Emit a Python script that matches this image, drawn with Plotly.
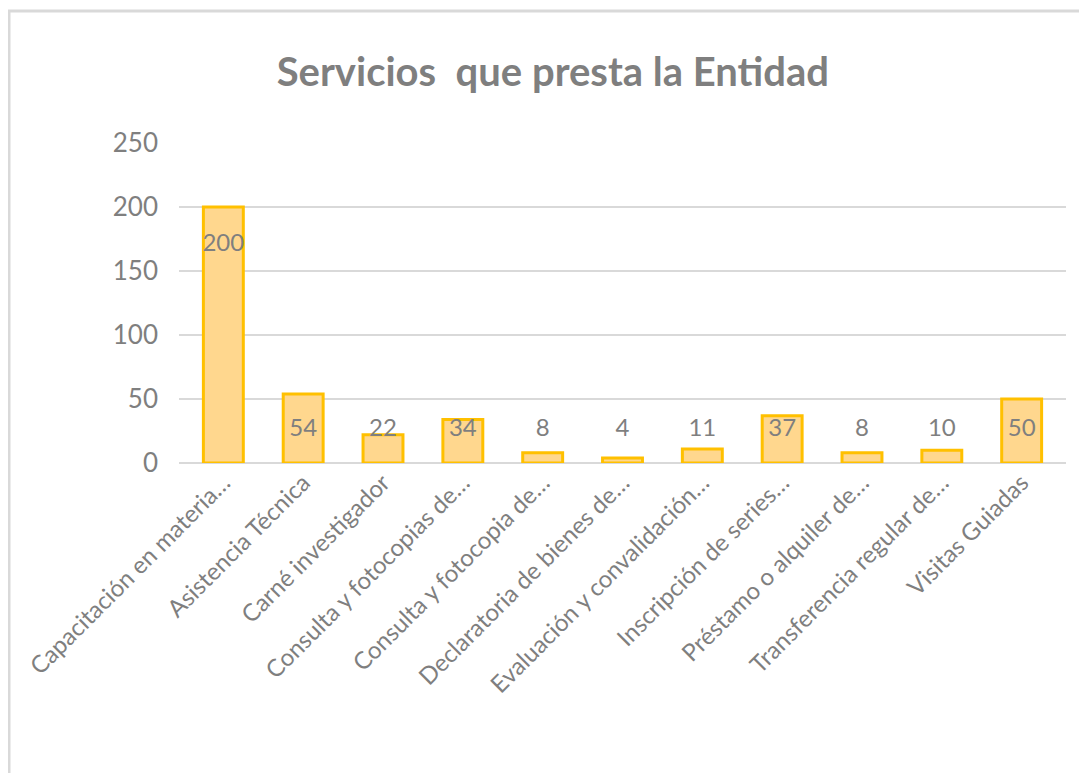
import plotly.graph_objects as go

categories = [
    "Capacitación en materia…",
    "Asistencia Técnica",
    "Carné investigador",
    "Consulta y fotocopias de…",
    "Consulta y fotocopia de…",
    "Declaratoria de bienes de…",
    "Evaluación y convalidación…",
    "Inscripción de series…",
    "Préstamo o alquiler de…",
    "Transferencia regular de…",
    "Visitas Guiadas",
]
values = [200, 54, 22, 34, 8, 4, 11, 37, 8, 10, 50]
y_ticks = [0, 50, 100, 150, 200, 250]

# page body has an 8px default margin, so the figure is offset by 8px
OFF = 8
W, H = 1087 - OFF, 773 - OFF
ML, MR, MT, MB = 183 - OFF - 4, 21, 143 - OFF, 310
GRAY = "#7f7f7f"
FONT = "Lato"

# data label heights: labels sit low in the bars, except the tallest one near its top
label_y = [v - 30 if v > 100 else 26 for v in values]

fig = go.Figure()
fig.add_trace(go.Bar(
    x=categories, y=values, width=0.5,
    marker=dict(color="#FFD78E", line=dict(color="#FFC000", width=3)),
    hoverinfo="x+y",
))
fig.add_trace(go.Scatter(
    x=categories, y=label_y, mode="text", text=[str(v) for v in values],
    textfont=dict(family=FONT, size=24, color=GRAY), hoverinfo="skip",
))

# chart frame (top and left edges visible in the reference), in figure pixels
pw, ph = W - ML - MR, H - MT - MB
def px_x(p): return (p - ML) / pw
def px_y(p): return (H - MB - p) / ph
fig.add_shape(type="line", xref="paper", yref="paper",
              x0=px_x(0), x1=px_x(W + 5), y0=px_y(3), y1=px_y(3),
              line=dict(color="#d9d9d9", width=3))
fig.add_shape(type="line", xref="paper", yref="paper",
              x0=px_x(1), x1=px_x(1), y0=px_y(2), y1=px_y(H + 5),
              line=dict(color="#d9d9d9", width=3))

fig.update_layout(
    width=W, height=H,
    margin=dict(l=ML, r=MR, t=MT, b=MB, autoexpand=False),
    paper_bgcolor="white", plot_bgcolor="white",
    showlegend=False,
    bargap=0.5,
    title=dict(text="<b>Servicios  que presta la Entidad</b>", x=0.505, xanchor="center",
               y=1 - 64 / H, yanchor="middle",
               font=dict(family=FONT, size=40, color=GRAY)),
    xaxis=dict(showgrid=False, showline=False, ticks="", tickangle=-45, automargin=False,
               tickfont=dict(family=FONT, size=24, color=GRAY)),
    yaxis=dict(range=[0, 250], tickvals=y_ticks, showgrid=True, gridcolor="#d9d9d9",
               gridwidth=2, zeroline=True, zerolinecolor="#d9d9d9", zerolinewidth=2,
               ticks="", ticklabelstandoff=20, automargin=False,
               tickfont=dict(family=FONT, size=26, color=GRAY)),
)

fig.write_html("out.html")
